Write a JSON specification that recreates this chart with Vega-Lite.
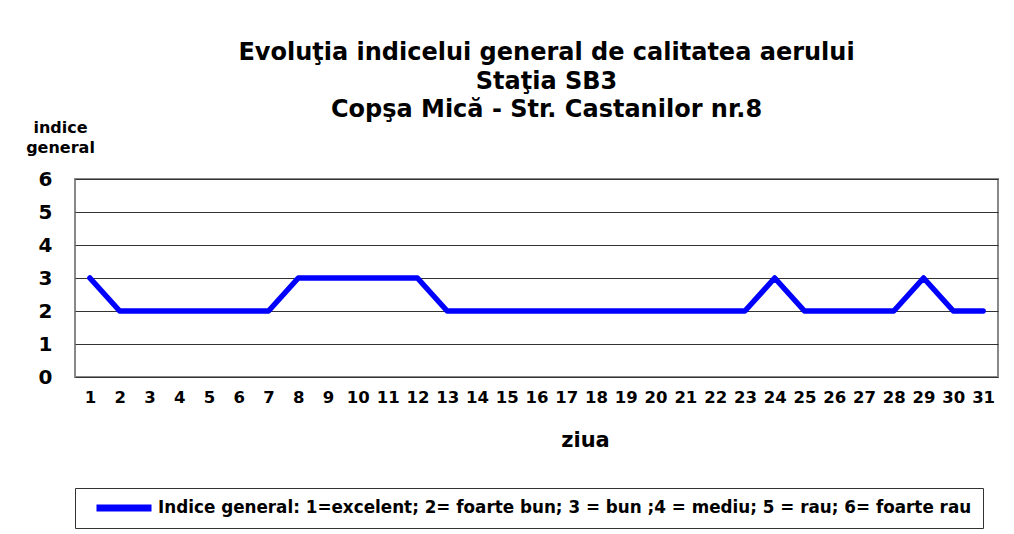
{
  "$schema": "https://vega.github.io/schema/vega-lite/v6.json",
  "autosize": "none",
  "width": 923,
  "height": 198,
  "padding": {"left": 75, "top": 179, "right": 16, "bottom": 157},
  "background": "white",
  "title": {
    "text": ["Evoluţia  indicelui general de calitatea aerului", "Staţia SB3", "Copşa Mică - Str. Castanilor nr.8"],
    "font": "DejaVu Sans",
    "fontSize": 24,
    "fontWeight": "bold",
    "color": "#000000",
    "lineHeight": 28.5,
    "anchor": "middle",
    "frame": "group",
    "dx": 10,
    "dy": 11,
    "offset": 8
  },
  "data": {
    "values": [
      {"ziua": 1, "indice": 3, "serie": "Indice general: 1=excelent; 2= foarte bun; 3 = bun ;4 = mediu; 5 = rau; 6= foarte rau"},
      {"ziua": 2, "indice": 2, "serie": "Indice general: 1=excelent; 2= foarte bun; 3 = bun ;4 = mediu; 5 = rau; 6= foarte rau"},
      {"ziua": 3, "indice": 2, "serie": "Indice general: 1=excelent; 2= foarte bun; 3 = bun ;4 = mediu; 5 = rau; 6= foarte rau"},
      {"ziua": 4, "indice": 2, "serie": "Indice general: 1=excelent; 2= foarte bun; 3 = bun ;4 = mediu; 5 = rau; 6= foarte rau"},
      {"ziua": 5, "indice": 2, "serie": "Indice general: 1=excelent; 2= foarte bun; 3 = bun ;4 = mediu; 5 = rau; 6= foarte rau"},
      {"ziua": 6, "indice": 2, "serie": "Indice general: 1=excelent; 2= foarte bun; 3 = bun ;4 = mediu; 5 = rau; 6= foarte rau"},
      {"ziua": 7, "indice": 2, "serie": "Indice general: 1=excelent; 2= foarte bun; 3 = bun ;4 = mediu; 5 = rau; 6= foarte rau"},
      {"ziua": 8, "indice": 3, "serie": "Indice general: 1=excelent; 2= foarte bun; 3 = bun ;4 = mediu; 5 = rau; 6= foarte rau"},
      {"ziua": 9, "indice": 3, "serie": "Indice general: 1=excelent; 2= foarte bun; 3 = bun ;4 = mediu; 5 = rau; 6= foarte rau"},
      {"ziua": 10, "indice": 3, "serie": "Indice general: 1=excelent; 2= foarte bun; 3 = bun ;4 = mediu; 5 = rau; 6= foarte rau"},
      {"ziua": 11, "indice": 3, "serie": "Indice general: 1=excelent; 2= foarte bun; 3 = bun ;4 = mediu; 5 = rau; 6= foarte rau"},
      {"ziua": 12, "indice": 3, "serie": "Indice general: 1=excelent; 2= foarte bun; 3 = bun ;4 = mediu; 5 = rau; 6= foarte rau"},
      {"ziua": 13, "indice": 2, "serie": "Indice general: 1=excelent; 2= foarte bun; 3 = bun ;4 = mediu; 5 = rau; 6= foarte rau"},
      {"ziua": 14, "indice": 2, "serie": "Indice general: 1=excelent; 2= foarte bun; 3 = bun ;4 = mediu; 5 = rau; 6= foarte rau"},
      {"ziua": 15, "indice": 2, "serie": "Indice general: 1=excelent; 2= foarte bun; 3 = bun ;4 = mediu; 5 = rau; 6= foarte rau"},
      {"ziua": 16, "indice": 2, "serie": "Indice general: 1=excelent; 2= foarte bun; 3 = bun ;4 = mediu; 5 = rau; 6= foarte rau"},
      {"ziua": 17, "indice": 2, "serie": "Indice general: 1=excelent; 2= foarte bun; 3 = bun ;4 = mediu; 5 = rau; 6= foarte rau"},
      {"ziua": 18, "indice": 2, "serie": "Indice general: 1=excelent; 2= foarte bun; 3 = bun ;4 = mediu; 5 = rau; 6= foarte rau"},
      {"ziua": 19, "indice": 2, "serie": "Indice general: 1=excelent; 2= foarte bun; 3 = bun ;4 = mediu; 5 = rau; 6= foarte rau"},
      {"ziua": 20, "indice": 2, "serie": "Indice general: 1=excelent; 2= foarte bun; 3 = bun ;4 = mediu; 5 = rau; 6= foarte rau"},
      {"ziua": 21, "indice": 2, "serie": "Indice general: 1=excelent; 2= foarte bun; 3 = bun ;4 = mediu; 5 = rau; 6= foarte rau"},
      {"ziua": 22, "indice": 2, "serie": "Indice general: 1=excelent; 2= foarte bun; 3 = bun ;4 = mediu; 5 = rau; 6= foarte rau"},
      {"ziua": 23, "indice": 2, "serie": "Indice general: 1=excelent; 2= foarte bun; 3 = bun ;4 = mediu; 5 = rau; 6= foarte rau"},
      {"ziua": 24, "indice": 3, "serie": "Indice general: 1=excelent; 2= foarte bun; 3 = bun ;4 = mediu; 5 = rau; 6= foarte rau"},
      {"ziua": 25, "indice": 2, "serie": "Indice general: 1=excelent; 2= foarte bun; 3 = bun ;4 = mediu; 5 = rau; 6= foarte rau"},
      {"ziua": 26, "indice": 2, "serie": "Indice general: 1=excelent; 2= foarte bun; 3 = bun ;4 = mediu; 5 = rau; 6= foarte rau"},
      {"ziua": 27, "indice": 2, "serie": "Indice general: 1=excelent; 2= foarte bun; 3 = bun ;4 = mediu; 5 = rau; 6= foarte rau"},
      {"ziua": 28, "indice": 2, "serie": "Indice general: 1=excelent; 2= foarte bun; 3 = bun ;4 = mediu; 5 = rau; 6= foarte rau"},
      {"ziua": 29, "indice": 3, "serie": "Indice general: 1=excelent; 2= foarte bun; 3 = bun ;4 = mediu; 5 = rau; 6= foarte rau"},
      {"ziua": 30, "indice": 2, "serie": "Indice general: 1=excelent; 2= foarte bun; 3 = bun ;4 = mediu; 5 = rau; 6= foarte rau"},
      {"ziua": 31, "indice": 2, "serie": "Indice general: 1=excelent; 2= foarte bun; 3 = bun ;4 = mediu; 5 = rau; 6= foarte rau"}
    ]
  },
  "mark": {"type": "line", "strokeWidth": 5.5, "strokeCap": "round", "strokeJoin": "round"},
  "encoding": {
    "x": {
      "field": "ziua",
      "type": "ordinal",
      "scale": {"type": "point", "padding": 0.5},
      "axis": {
        "title": "ziua",
        "titleFont": "DejaVu Sans",
        "titleFontSize": 21,
        "titleFontWeight": "bold",
        "titleColor": "#000000",
        "titleX": 510,
        "titleY": 63,
        "titleBaseline": "middle",
        "labelAngle": 0,
        "labelFont": "DejaVu Sans",
        "labelFontSize": 16.5,
        "labelFontWeight": "bold",
        "labelColor": "#000000",
        "labelPadding": 12,
        "ticks": false,
        "domain": false,
        "grid": false
      }
    },
    "y": {
      "field": "indice",
      "type": "quantitative",
      "scale": {"domain": [0, 6], "nice": false, "zero": true},
      "axis": {
        "title": ["indice", "general"],
        "titleFont": "DejaVu Sans",
        "titleFontSize": 16,
        "titleFontWeight": "bold",
        "titleColor": "#000000",
        "titleAngle": 0,
        "titleAlign": "center",
        "titleBaseline": "middle",
        "titleLineHeight": 20,
        "titleX": -15,
        "titleY": -52,
        "values": [0, 1, 2, 3, 4, 5, 6],
        "labelFont": "DejaVu Sans",
        "labelFontSize": 20,
        "labelFontWeight": "bold",
        "labelColor": "#000000",
        "labelPadding": 23,
        "ticks": false,
        "domain": false,
        "grid": true,
        "gridColor": "#333333",
        "gridWidth": 1.2,
        "gridOpacity": 1
      }
    },
    "color": {
      "field": "serie",
      "type": "nominal",
      "scale": {"range": ["#0000ff"]},
      "legend": {
        "title": null,
        "orient": "none",
        "legendX": 0,
        "legendY": 309,
        "strokeColor": "#333333",
        "fillColor": "#ffffff",
        "padding": 11,
        "clipHeight": 18,
        "symbolType": "stroke",
        "symbolSize": 3025,
        "symbolStrokeWidth": 7,
        "symbolOffset": 7,
        "labelOffset": 3,
        "labelFont": "DejaVu Sans",
        "labelFontSize": 16.8,
        "labelFontWeight": "bold",
        "labelColor": "#000000",
        "labelLimit": 1000
      }
    }
  },
  "config": {
    "view": {"stroke": "#888888", "strokeWidth": 2},
    "axis": {"gridColor": "#333333"}
  }
}
